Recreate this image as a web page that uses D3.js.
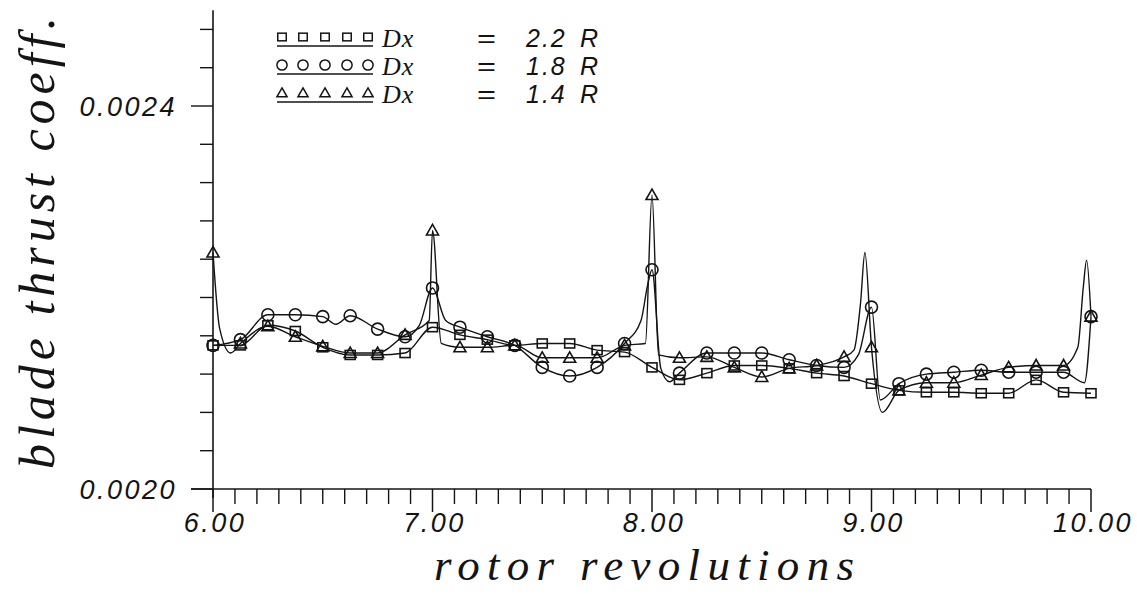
<!DOCTYPE html>
<html><head><meta charset="utf-8">
<script src="https://cdn.jsdelivr.net/npm/d3@7"></script>
<style>body{margin:0;background:#fff}svg{display:block}</style>
</head><body>
<svg id="chart" width="1137" height="594"></svg>
<script>
// ---- data (rotor revolutions, blade thrust coefficient) ----
const squareRevs = [6,6.125,6.25,6.375,6.5,6.625,6.75,6.875,7,7.125,7.25,7.375,7.5,7.625,7.75,7.875,8,8.125,8.25,8.375,8.5,8.625,8.75,8.875,9,9.125,9.25,9.375,9.5,9.625,9.75,9.875,10];
const squareVals = [0.002150,0.002150,0.002171,0.002165,0.002148,0.002140,0.002140,0.002142,0.002169,0.002161,0.002156,0.002150,0.002152,0.002152,0.002145,0.002143,0.002127,0.002114,0.002121,0.002129,0.002129,0.002126,0.002121,0.002118,0.002110,0.002103,0.002101,0.002101,0.002100,0.002100,0.002114,0.002101,0.002100];

const circleRevs = [6,6.125,6.25,6.375,6.5,6.56,6.625,6.75,6.875,6.94,7,7.06,7.125,7.25,7.375,7.5,7.625,7.75,7.875,7.95,7.98,8,8.04,8.08,8.125,8.25,8.375,8.5,8.625,8.75,8.875,8.94,9,9.04,9.125,9.25,9.375,9.5,9.625,9.75,9.875,9.97,10];
const circleVals = [0.002150,0.002156,0.002182,0.002182,0.002180,0.002172,0.002181,0.002167,0.002159,0.002171,0.002210,0.002176,0.002169,0.002159,0.002150,0.002127,0.002118,0.002127,0.002152,0.002176,0.002213,0.002229,0.002126,0.002112,0.002121,0.002142,0.002142,0.002142,0.002135,0.002129,0.002127,0.002140,0.002190,0.002093,0.002110,0.002120,0.002122,0.002124,0.002122,0.002122,0.002122,0.002111,0.002180];

const triangleRevs = [6,6.03,6.08,6.125,6.25,6.375,6.5,6.625,6.75,6.875,6.985,7,7.04,7.125,7.25,7.375,7.5,7.625,7.75,7.875,7.97,8,8.03,8.125,8.25,8.375,8.5,8.625,8.75,8.875,8.92,8.95,8.97,9,9.05,9.125,9.25,9.375,9.5,9.625,9.75,9.875,9.94,9.965,9.98,10];
const triangleVals = [0.002247,0.002168,0.002142,0.002152,0.002170,0.002159,0.002149,0.002142,0.002142,0.002161,0.002176,0.002270,0.002152,0.002148,0.002148,0.002150,0.002137,0.002137,0.002137,0.002150,0.002152,0.002307,0.002140,0.002137,0.002138,0.002127,0.002117,0.002126,0.002129,0.002138,0.002145,0.002194,0.002247,0.002148,0.002080,0.002103,0.002111,0.002111,0.002119,0.002127,0.002129,0.002129,0.002148,0.002211,0.002239,0.002180];

const legendLabels = ["2.2", "1.8", "1.4"];
const xMajorTicks = [6, 7, 8, 9, 10];
const xTickLabels = ["6.00", "7.00", "8.00", "9.00", "10.00"];
const yMajorTicks = [0.0020, 0.0024];
const yTickLabels = ["0.0020", "0.0024"];
const yMinorTicks = [0.00204,0.00208,0.00212,0.00216,0.00220,0.00224,0.00228,0.00232,0.00236,0.00244,0.00248];
const xMinorTicks = [6.1,6.2,6.3,6.4,6.5,6.6,6.7,6.8,6.9,7.1,7.2,7.3,7.4,7.5,7.6,7.7,7.8,7.9,8.1,8.2,8.3,8.4,8.5,8.6,8.7,8.8,8.9,9.1,9.2,9.3,9.4,9.5,9.6,9.7,9.8,9.9];
// ------------------------------------------------------------

const svg = d3.select("#chart");
const x = d3.scaleLinear().domain([6, 10]).range([213, 1091]);
const y = d3.scaleLinear().domain([0.0020, 0.0025]).range([489, 10.25]);
const INK = "#141414";
const tickFont = "'Liberation Sans', Arial, sans-serif";
const serifFont = "'Liberation Serif', 'DejaVu Serif', serif";

// axes lines
svg.append("line").attr("x1", x(6)).attr("x2", x(6)).attr("y1", y(0.0025)).attr("y2", y(0.0020) + 9)
  .attr("stroke", INK).attr("stroke-width", 1.6);
svg.append("line").attr("x1", x(6) - 22).attr("x2", x(10)).attr("y1", y(0.0020)).attr("y2", y(0.0020))
  .attr("stroke", INK).attr("stroke-width", 1.6);

// y ticks
svg.append("g").selectAll("line").data(yMinorTicks).join("line")
  .attr("x1", x(6) - 13).attr("x2", x(6)).attr("y1", d => y(d)).attr("y2", d => y(d))
  .attr("stroke", INK).attr("stroke-width", 1.4);
svg.append("g").selectAll("line").data(yMajorTicks).join("line")
  .attr("x1", x(6) - 22).attr("x2", x(6)).attr("y1", d => y(d)).attr("y2", d => y(d))
  .attr("stroke", INK).attr("stroke-width", 1.4);
svg.append("g").selectAll("text").data(yMajorTicks).join("text")
  .attr("x", x(6) - 36).attr("y", d => y(d) + 10)
  .attr("text-anchor", "end")
  .attr("font-family", tickFont).attr("font-style", "italic").attr("font-size", 27)
  .attr("letter-spacing", 2.5).attr("fill", INK)
  .text((d, i) => yTickLabels[i]);

// x ticks
svg.append("g").selectAll("line").data(xMinorTicks).join("line")
  .attr("x1", d => x(d)).attr("x2", d => x(d)).attr("y1", y(0.0020)).attr("y2", y(0.0020) + 15)
  .attr("stroke", INK).attr("stroke-width", 1.4);
svg.append("g").selectAll("line").data(xMajorTicks).join("line")
  .attr("x1", d => x(d)).attr("x2", d => x(d)).attr("y1", y(0.0020)).attr("y2", y(0.0020) + 23)
  .attr("stroke", INK).attr("stroke-width", 1.5);
svg.append("g").selectAll("text").data(xMajorTicks).join("text")
  .attr("x", d => x(d) + 2).attr("y", y(0.0020) + 43)
  .attr("text-anchor", "middle")
  .attr("font-family", tickFont).attr("font-style", "italic").attr("font-size", 27)
  .attr("letter-spacing", 2.5).attr("fill", INK)
  .text((d, i) => xTickLabels[i]);

// axis titles
svg.append("text")
  .attr("transform", `translate(54, 243) rotate(-90)`)
  .attr("text-anchor", "middle")
  .attr("font-family", serifFont).attr("font-style", "italic").attr("font-size", 50)
  .attr("textLength", 452).attr("lengthAdjust", "spacing")
  .attr("fill", INK).text("blade thrust coeff.");
svg.append("text")
  .attr("x", (x(6) + x(10)) / 2 - 8).attr("y", 580)
  .attr("text-anchor", "middle")
  .attr("font-family", serifFont).attr("font-style", "italic").attr("font-size", 45)
  .attr("textLength", 420).attr("lengthAdjust", "spacing")
  .attr("fill", INK).text("rotor revolutions");

// series
const series = [
  { revs: squareRevs, vals: squareVals, shape: "square" },
  { revs: circleRevs, vals: circleVals, shape: "circle" },
  { revs: triangleRevs, vals: triangleVals, shape: "triangle" }
];
const line = d3.line().x(d => x(d[0])).y(d => y(d[1])).curve(d3.curveMonotoneX);

function drawMarker(g, shape, cx, cy, s) {
  s = s || 1;
  if (shape === "square") {
    g.append("rect").attr("x", cx - 5 * s).attr("y", cy - 4.5 * s).attr("width", 10 * s).attr("height", 9 * s);
  } else if (shape === "circle") {
    g.append("circle").attr("cx", cx).attr("cy", cy).attr("r", 6 * s);
  } else {
    g.append("path").attr("d", `M${cx},${cy - 6 * s}L${cx + 6 * s},${cy + 4.5 * s}L${cx - 6 * s},${cy + 4.5 * s}Z`);
  }
}

series.forEach(s => {
  const pts = s.revs.map((r, i) => [r, s.vals[i]]);
  svg.append("path").datum(pts).attr("d", line)
    .attr("fill", "none").attr("stroke", INK).attr("stroke-width", 1.4);
  const mg = svg.append("g").attr("fill", "none").attr("stroke", INK).attr("stroke-width", 1.6);
  pts.filter(p => Math.abs(p[0] * 8 - Math.round(p[0] * 8)) < 1e-6)
    .forEach(p => drawMarker(mg, s.shape, x(p[0]), y(p[1])));
});

// legend
const legendRowY = [47, 75, 103];
legendRowY.forEach((by, i) => {
  const g = svg.append("g");
  const mg = g.append("g").attr("fill", "none").attr("stroke", INK).attr("stroke-width", 1.5);
  [282, 303, 325, 347, 368].forEach(mx => drawMarker(mg, series[i].shape, mx, by - 10, 0.85));
  g.append("line").attr("x1", 277).attr("x2", 373).attr("y1", by - 1).attr("y2", by - 1)
    .attr("stroke", INK).attr("stroke-width", 1.3);
  g.append("text").attr("x", 382).attr("y", by)
    .attr("font-family", serifFont).attr("font-style", "italic").attr("font-size", 26)
    .attr("letter-spacing", 1).attr("fill", INK).text("Dx");
  g.append("text").attr("x", 477).attr("y", by)
    .attr("font-family", tickFont).attr("font-size", 25).attr("fill", INK)
    .attr("transform", `translate(477,${by}) scale(1.3,1) translate(-477,${-by})`).text("=");
  g.append("text").attr("x", 526).attr("y", by)
    .attr("font-family", tickFont).attr("font-style", "italic").attr("font-size", 25)
    .attr("letter-spacing", 2).attr("fill", INK).text(legendLabels[i]);
  g.append("text").attr("x", 580).attr("y", by)
    .attr("font-family", tickFont).attr("font-style", "italic").attr("font-size", 25)
    .attr("fill", INK).text("R");
});
</script>
</body></html>
